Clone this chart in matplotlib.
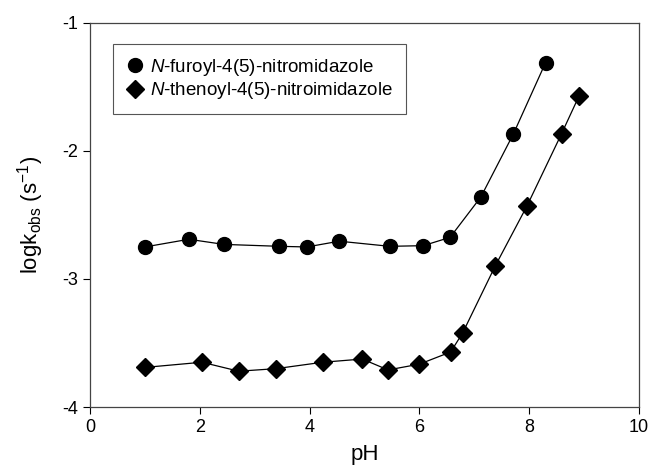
import matplotlib
matplotlib.use("Agg")
import matplotlib.pyplot as plt

plt.rcParams["font.family"] = ["Liberation Sans", "DejaVu Sans"]
plt.rcParams["mathtext.fontset"] = "custom"
plt.rcParams["mathtext.rm"] = "Liberation Sans"
plt.rcParams["mathtext.it"] = "Liberation Sans:italic"
plt.rcParams["axes.unicode_minus"] = False

# N-furoyl-4(5)-nitromidazole
ph_furoyl = [1.00, 1.80, 2.44, 3.45, 3.95, 4.54, 5.46, 6.07, 6.56, 7.12, 7.71, 8.30]
logk_furoyl = [-2.75, -2.69, -2.73, -2.745, -2.75, -2.705, -2.745, -2.74, -2.675, -2.36, -1.87, -1.31]

# N-thenoyl-4(5)-nitroimidazole
ph_thenoyl = [1.01, 2.04, 2.71, 3.39, 4.24, 4.96, 5.43, 6.00, 6.57, 6.79, 7.38, 7.96, 8.59, 8.91]
logk_thenoyl = [-3.69, -3.65, -3.72, -3.70, -3.65, -3.625, -3.71, -3.665, -3.57, -3.42, -2.90, -2.43, -1.866, -1.57]

x_ticks = [0, 2, 4, 6, 8, 10]
y_ticks = [-1, -2, -3, -4]

fig = plt.figure(figsize=(6.52, 4.75), dpi=100)
ax = fig.add_axes([0.138, 0.143, 0.842, 0.809])

ax.plot(ph_furoyl, logk_furoyl, "k-", linewidth=0.9, marker="o", markersize=10,
        label=r"$\mathit{N}$-furoyl-4(5)-nitromidazole")
ax.plot(ph_thenoyl, logk_thenoyl, "k-", linewidth=0.9, marker="D", markersize=9,
        label=r"$\mathit{N}$-thenoyl-4(5)-nitroimidazole")

ax.set_xlim(0, 10)
ax.set_ylim(-4, -1)
ax.set_xticks(x_ticks)
ax.set_yticks(y_ticks)
ax.tick_params(direction="out", length=5, width=0.8, labelsize=13, colors="black")
ax.tick_params(top=False, right=False)
for s in ax.spines.values():
    s.set_linewidth(0.9)
    s.set_color("#444444")

ax.set_xlabel("pH", fontsize=16, labelpad=6)
ax.set_ylabel(r"logk$_{\mathrm{obs}}$ (s$^{\mathrm{-1}}$)", fontsize=16, labelpad=12)

leg = ax.legend(loc="upper left", bbox_to_anchor=(0.042, 0.945), fontsize=13.5,
                handlelength=0.9, handletextpad=0.35, borderpad=0.7, borderaxespad=0,
                labelspacing=0.12, fancybox=False, framealpha=1)
leg.get_frame().set_edgecolor("#555555")
leg.get_frame().set_linewidth(0.8)
for h in leg.legend_handles:
    h.set_linestyle("none")

fig.savefig("out.png", dpi=100)
